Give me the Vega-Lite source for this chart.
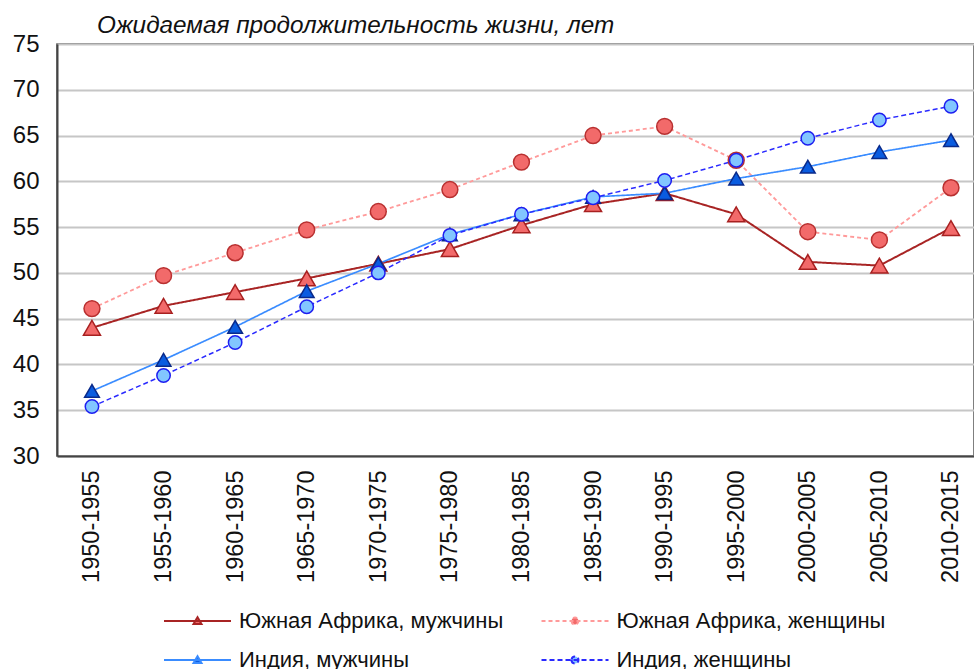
{
  "$schema": "https://vega.github.io/schema/vega-lite/v6.json",
  "autosize": {"type": "none"},
  "width": 917,
  "height": 412,
  "padding": {"left": 57, "top": 44, "right": 0, "bottom": 213},
  "background": "white",
  "config": {"view": {"stroke": "#555555", "strokeWidth": 1.5}, "font": "Liberation Sans"},
  "title": {"text": "Ожидаемая продолжительность жизни, лет", "anchor": "start", "frame": "group", "dx": 40, "offset": -25, "baseline": "alphabetic", "font": "Liberation Sans", "fontStyle": "italic", "fontWeight": "normal", "fontSize": 24.3, "color": "#111111"},
  "data": {"values": [
    {"period": "1950-1955", "series": "Южная Африка, мужчины", "value": 44.0},
    {"period": "1955-1960", "series": "Южная Африка, мужчины", "value": 46.4},
    {"period": "1960-1965", "series": "Южная Африка, мужчины", "value": 47.9},
    {"period": "1965-1970", "series": "Южная Африка, мужчины", "value": 49.4},
    {"period": "1970-1975", "series": "Южная Африка, мужчины", "value": 51.0},
    {"period": "1975-1980", "series": "Южная Африка, мужчины", "value": 52.6},
    {"period": "1980-1985", "series": "Южная Африка, мужчины", "value": 55.2},
    {"period": "1985-1990", "series": "Южная Африка, мужчины", "value": 57.5},
    {"period": "1990-1995", "series": "Южная Африка, мужчины", "value": 58.7},
    {"period": "1995-2000", "series": "Южная Африка, мужчины", "value": 56.4},
    {"period": "2000-2005", "series": "Южная Африка, мужчины", "value": 51.2},
    {"period": "2005-2010", "series": "Южная Африка, мужчины", "value": 50.8},
    {"period": "2010-2015", "series": "Южная Африка, мужчины", "value": 54.9},
    {"period": "1950-1955", "series": "Южная Африка, женщины", "value": 46.1},
    {"period": "1955-1960", "series": "Южная Африка, женщины", "value": 49.7},
    {"period": "1960-1965", "series": "Южная Африка, женщины", "value": 52.2},
    {"period": "1965-1970", "series": "Южная Африка, женщины", "value": 54.7},
    {"period": "1970-1975", "series": "Южная Африка, женщины", "value": 56.7},
    {"period": "1975-1980", "series": "Южная Африка, женщины", "value": 59.1},
    {"period": "1980-1985", "series": "Южная Африка, женщины", "value": 62.1},
    {"period": "1985-1990", "series": "Южная Африка, женщины", "value": 65.0},
    {"period": "1990-1995", "series": "Южная Африка, женщины", "value": 66.0},
    {"period": "1995-2000", "series": "Южная Африка, женщины", "value": 62.3},
    {"period": "2000-2005", "series": "Южная Африка, женщины", "value": 54.5},
    {"period": "2005-2010", "series": "Южная Африка, женщины", "value": 53.6},
    {"period": "2010-2015", "series": "Южная Африка, женщины", "value": 59.3},
    {"period": "1950-1955", "series": "Индия, мужчины", "value": 37.1},
    {"period": "1955-1960", "series": "Индия, мужчины", "value": 40.5},
    {"period": "1960-1965", "series": "Индия, мужчины", "value": 44.1},
    {"period": "1965-1970", "series": "Индия, мужчины", "value": 48.0},
    {"period": "1970-1975", "series": "Индия, мужчины", "value": 51.0},
    {"period": "1975-1980", "series": "Индия, мужчины", "value": 54.2},
    {"period": "1980-1985", "series": "Индия, мужчины", "value": 56.4},
    {"period": "1985-1990", "series": "Индия, мужчины", "value": 58.3},
    {"period": "1990-1995", "series": "Индия, мужчины", "value": 58.7},
    {"period": "1995-2000", "series": "Индия, мужчины", "value": 60.3},
    {"period": "2000-2005", "series": "Индия, мужчины", "value": 61.6},
    {"period": "2005-2010", "series": "Индия, мужчины", "value": 63.2},
    {"period": "2010-2015", "series": "Индия, мужчины", "value": 64.5},
    {"period": "1950-1955", "series": "Индия, женщины", "value": 35.4},
    {"period": "1955-1960", "series": "Индия, женщины", "value": 38.8},
    {"period": "1960-1965", "series": "Индия, женщины", "value": 42.4},
    {"period": "1965-1970", "series": "Индия, женщины", "value": 46.3},
    {"period": "1970-1975", "series": "Индия, женщины", "value": 50.0},
    {"period": "1975-1980", "series": "Индия, женщины", "value": 54.1},
    {"period": "1980-1985", "series": "Индия, женщины", "value": 56.4},
    {"period": "1985-1990", "series": "Индия, женщины", "value": 58.2},
    {"period": "1990-1995", "series": "Индия, женщины", "value": 60.1},
    {"period": "1995-2000", "series": "Индия, женщины", "value": 62.3},
    {"period": "2000-2005", "series": "Индия, женщины", "value": 64.7},
    {"period": "2005-2010", "series": "Индия, женщины", "value": 66.7},
    {"period": "2010-2015", "series": "Индия, женщины", "value": 68.2}
  ]},
  "encoding": {
    "x": {"field": "period", "type": "ordinal", "sort": null,
      "scale": {"type": "point", "padding": 0.405, "align": 0.603},
      "axis": {"title": null, "labelAngle": 270, "labelAlign": "right", "labelBaseline": "middle", "labelFont": "Liberation Sans", "labelFontSize": 23.5, "labelColor": "#111111", "labelPadding": 14, "ticks": false, "tickSize": 0, "grid": false, "domainColor": "#444444", "domainWidth": 2}},
    "y": {"field": "value", "type": "quantitative",
      "scale": {"domain": [30, 75], "nice": false, "zero": false},
      "axis": {"title": null, "values": [30, 35, 40, 45, 50, 55, 60, 65, 70, 75], "labelFont": "Liberation Sans", "labelFontSize": 24, "labelColor": "#111111", "labelPadding": 18, "ticks": false, "tickSize": 0, "grid": true, "gridColor": "#c6c6c6", "gridWidth": 2, "domainColor": "#444444", "domainWidth": 2}}
  },
  "layer": [
    {
      "mark": {"type": "line"},
      "encoding": {
        "stroke": {"field": "series", "type": "nominal",
          "scale": {"domain": ["Южная Африка, мужчины", "Южная Африка, женщины", "Индия, мужчины", "Индия, женщины"], "range": ["#a82424", "#ff9a9a", "#3a8cff", "#2a2aff"]},
          "legend": {"orient": "none", "direction": "horizontal", "legendX": 129.5, "legendY": 566, "columns": 2, "title": null, "labelFont": "Liberation Sans", "labelFontSize": 22, "labelColor": "#111111", "labelOffset": 30.5, "labelLimit": 400, "symbolSize": 100, "symbolStrokeWidth": 2, "rowPadding": 17, "columnPadding": 33.5, "symbolType": "stroke",
            "encode": {"symbols": {"update": {
              "shape": {"signal": "(datum.value == 'Южная Африка, мужчины' || datum.value == 'Индия, мужчины') ? 'M-6.7,0H6.7M-0.8,0.6L0,-0.75L0.8,0.6Z' : 'M-6.7,0H6.7M-0.7,0A0.7,0.7,0,1,0,0.7,0A0.7,0.7,0,1,0,-0.7,0Z'"},
              "fill": {"signal": "datum.value == 'Индия, мужчины' ? '#0a5ce0' : datum.value == 'Индия, женщины' ? '#82c6ff' : '#f26a6a'"},
              "strokeDash": {"signal": "datum.value == 'Южная Африка, женщины' ? [4, 3] : datum.value == 'Индия, женщины' ? [5, 3] : [1, 0]"},
              "fillOpacity": {"value": 1},
              "opacity": {"value": 1}
            }}}}},
        "strokeDash": {"field": "series", "type": "nominal",
          "scale": {"domain": ["Южная Африка, мужчины", "Южная Африка, женщины", "Индия, мужчины", "Индия, женщины"], "range": [[1, 0], [4, 3], [1, 0], [5, 3]]}, "legend": null},
        "strokeWidth": {"field": "series", "type": "nominal",
          "scale": {"domain": ["Южная Африка, мужчины", "Южная Африка, женщины", "Индия, мужчины", "Индия, женщины"], "range": [2, 1.5, 1.6, 2.2]}, "legend": null}
      }
    },
    {
      "mark": {"type": "point", "filled": true, "opacity": 1, "strokeWidth": 1.5},
      "encoding": {
        "shape": {"field": "series", "type": "nominal",
          "scale": {"domain": ["Южная Африка, мужчины", "Южная Африка, женщины", "Индия, мужчины", "Индия, женщины"], "range": ["triangle-up", "circle", "triangle-up", "circle"]}, "legend": null},
        "size": {"field": "series", "type": "nominal",
          "scale": {"domain": ["Южная Африка, мужчины", "Южная Африка, женщины", "Индия, мужчины", "Индия, женщины"], "range": [290, 180, 290, 180]}, "legend": null},
        "fill": {"field": "series", "type": "nominal",
          "scale": {"domain": ["Южная Африка, мужчины", "Южная Африка, женщины", "Индия, мужчины", "Индия, женщины"], "range": ["#f26a6a", "#f26a6a", "#0a5ce0", "#82c6ff"]}, "legend": null},
        "stroke": {"field": "series", "type": "nominal",
          "scale": {"domain": ["Южная Африка, мужчины", "Южная Африка, женщины", "Индия, мужчины", "Индия, женщины"], "range": ["#a82020", "#b83030", "#0a2a8a", "#1e1ef0"]}, "legend": null}
      }
    }
  ],
  "resolve": {"scale": {"stroke": "independent"}}
}
